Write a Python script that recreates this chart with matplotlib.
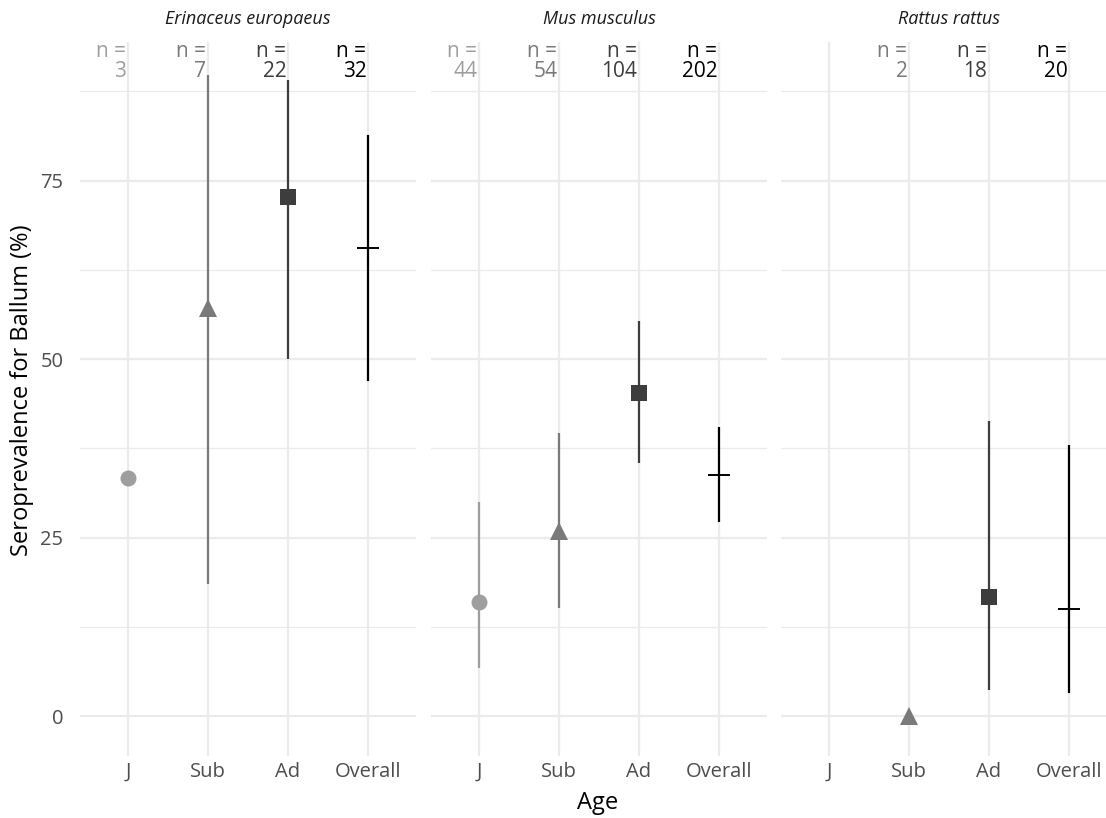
import numpy as np
import matplotlib.pyplot as plt

plt.rcParams['font.family'] = ['Open Sans', 'DejaVu Sans']

species = ['Erinaceus europaeus', 'Mus musculus', 'Rattus rattus']
ages = ['J', 'Sub', 'Ad', 'Overall']

# sample sizes per age class (None = no animals)
n_erinaceus = [3, 7, 22, 32]
n_mus = [44, 54, 104, 202]
n_rattus = [None, 2, 18, 20]

# seroprevalence (%) with 95% CI bounds
prev_erinaceus = [33.3, 57.1, 72.7, 65.6]
low_erinaceus = [np.nan, 18.5, 50.0, 46.9]
high_erinaceus = [np.nan, 89.8, 89.1, 81.4]

prev_mus = [15.9, 25.9, 45.2, 33.7]
low_mus = [6.7, 15.1, 35.4, 27.2]
high_mus = [30.0, 39.6, 55.3, 40.5]

prev_rattus = [np.nan, 0.0, 16.7, 15.0]
low_rattus = [np.nan, np.nan, 3.6, 3.2]
high_rattus = [np.nan, np.nan, 41.3, 38.0]

colors = ['#9E9E9E', '#7A7A7A', '#3D3D3D', '#000000']
markers = ['o', '^', 's', '+']
msizes = [11.5, 13, 11.5, 16.5]

panels = [
    (n_erinaceus, prev_erinaceus, low_erinaceus, high_erinaceus),
    (n_mus, prev_mus, low_mus, high_mus),
    (n_rattus, prev_rattus, low_rattus, high_rattus),
]

W, H = 1106, 818
fig = plt.figure(figsize=(W / 100, H / 100), dpi=100)

lefts = [80, 431, 781]
pw = 336
top, bottom = 42, 756
grid_c = '#EBEBEB'

for i, (name, (ns, prev, lo, hi)) in enumerate(zip(species, panels)):
    ax = fig.add_axes([lefts[i] / W, 1 - bottom / H, pw / W, (bottom - top) / H])
    x = np.arange(len(ages))
    ax.set_xlim(-0.6, 3.6)
    ax.set_ylim(-5.6, 94.4)
    for s in ax.spines.values():
        s.set_visible(False)
    ax.set_yticks([0, 25, 50, 75])
    ax.set_yticks([12.5, 37.5, 62.5, 87.5], minor=True)
    ax.set_xticks(x)
    ax.set_xticklabels(ages)
    ax.grid(True, which='major', color=grid_c, linewidth=1.6, zorder=0)
    ax.grid(True, which='minor', axis='y', color=grid_c, linewidth=0.9, zorder=0)
    ax.tick_params(which='both', length=0, labelsize=14.5, labelcolor='#4D4D4D', pad=4)
    ax.tick_params(axis='y', pad=12)
    if i > 0:
        ax.set_yticklabels([])
    ax.set_title(name, style='italic', fontsize=13, color='#1A1A1A', pad=13)

    for j in range(len(ages)):
        if not np.isnan(lo[j]):
            ax.vlines(x[j], lo[j], hi[j], color=colors[j], linewidth=1.6, zorder=2)
        if not np.isnan(prev[j]):
            ax.plot(x[j], prev[j], marker=markers[j], markersize=msizes[j],
                    color=colors[j], markeredgewidth=1.4 if markers[j] == '+' else 0,
                    linestyle='none', zorder=3, clip_on=False)
        if ns[j] is not None:
            ax.text(x[j] - 0.02, 94.6, f'n =\n{ns[j]}', ha='right', va='top',
                    fontsize=15, color=colors[j], linespacing=0.95)

fig.text(22 / W, 1 - 390 / H, 'Seroprevalence for Ballum (%)', rotation=90,
         ha='center', va='center', fontsize=17, color='#000000')
fig.text(598 / W, 1 - 803 / H, 'Age', ha='center', va='center', fontsize=17)

fig.savefig('out.png', dpi=100, facecolor='white')
